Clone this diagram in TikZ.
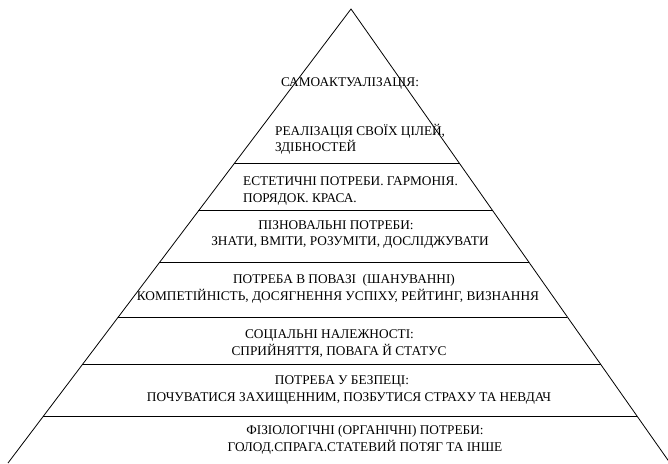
\documentclass[tikz,border=0pt]{standalone}
\usepackage{fontspec}
\setmainfont{Liberation Serif}
\usetikzlibrary{calc}

\begin{document}
\begin{tikzpicture}[x=1pt,y=-1pt,side/.style={line width=0.8pt},rule/.style={line width=1pt},lbl/.style={inner sep=0pt,font=\fontsize{13.3}{16.5}\selectfont}]
\useasboundingbox (0,0) rectangle (668,463);
\coordinate (T) at (351,9);
\coordinate (L) at (8,463);
\coordinate (R) at (670,463);
\draw[side] (L)--(T)--(R);
\draw[rule] ($(T)!0.3414!(L)$)--($(T)!0.3414!(R)$);
\draw[rule] ($(T)!0.4449!(L)$)--($(T)!0.4449!(R)$);
\draw[rule] ($(T)!0.5588!(L)$)--($(T)!0.5588!(R)$);
\draw[rule] ($(T)!0.6784!(L)$)--($(T)!0.6784!(R)$);
\draw[rule] ($(T)!0.7830!(L)$)--($(T)!0.7830!(R)$);
\draw[rule] ($(T)!0.8980!(L)$)--($(T)!0.8980!(R)$);
\draw (350,83.3) node[lbl] (A) {САМОАКТУАЛІЗАЦІЯ:};
\draw (275,139.3) node[lbl,anchor=west,align=left] (B) {РЕАЛІЗАЦІЯ СВОЇХ ЦІЛЕЙ,\\ЗДІБНОСТЕЙ};
\draw (243,191) node[lbl,anchor=west,align=left] (C) {ЕСТЕТИЧНІ ПОТРЕБИ. ГАРМОНІЯ.\\ПОРЯДОК. КРАСА.};
\draw (350,234.3) node[lbl,align=center] (D) {ПІЗНОВАЛЬНІ ПОТРЕБИ:\hspace*{28pt}\\ЗНАТИ, ВМІТИ, РОЗУМІТИ, ДОСЛІДЖУВАТИ};
\draw (338,289) node[lbl,align=center] (E) {\hspace*{12pt}ПОТРЕБА В ПОВАЗІ \ (ШАНУВАННІ)\\КОМПЕТІЙНІСТЬ, ДОСЯГНЕННЯ УСПІХУ, РЕЙТИНГ, ВИЗНАННЯ};
\draw (339,343.5) node[lbl,align=center] (F) {СОЦІАЛЬНІ НАЛЕЖНОСТІ:\hspace*{19pt}\\СПРИЙНЯТТЯ, ПОВАГА Й СТАТУС};
\draw (349,390) node[lbl,align=center] (G) {ПОТРЕБА У БЕЗПЕЦІ:\hspace*{14pt}\\ПОЧУВАТИСЯ ЗАХИЩЕННИМ, ПОЗБУТИСЯ СТРАХУ ТА НЕВДАЧ};
\draw (365,439.7) node[lbl,align=center] (H) {ФІЗІОЛОГІЧНІ (ОРГАНІЧНІ) ПОТРЕБИ:\\ГОЛОД.СПРАГА.СТАТЕВИЙ ПОТЯГ ТА ІНШЕ};
\end{tikzpicture}
\end{document}
